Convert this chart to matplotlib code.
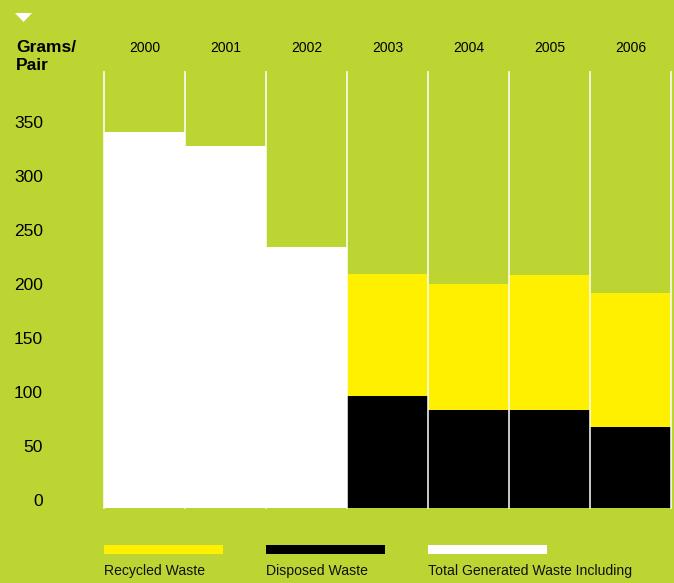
import matplotlib
matplotlib.use("Agg")
import matplotlib.pyplot as plt
import matplotlib.transforms as mtransforms
from matplotlib.patches import Rectangle, Polygon

plt.rcParams['font.family'] = ['Liberation Sans', 'DejaVu Sans']

# Datos (gramos por par)
years = ['2000', '2001', '2002', '2003', '2004', '2005', '2006']
total_only = [348, 335, 242, 0, 0, 0, 0]      # solo total (2000-2002)
disposed = [0, 0, 0, 104, 91, 91, 75]
recycled = [0, 0, 0, 113, 116, 125, 124]
yticks = [0, 50, 100, 150, 200, 250, 300, 350]
legend_labels = ['Recycled Waste', 'Disposed Waste', 'Total Generated Waste Including']

bg = '#bdd533'
yellow = '#fff000'
colors = [yellow, 'black', 'white']

fig = plt.figure(figsize=(6.74, 5.83), dpi=100, facecolor=bg)
ax = fig.add_axes([104/674, 75/583, 567/674, 436/583])
ax.set_facecolor(bg)

x = range(len(years))
ax.bar(x, total_only, width=1, color='white', linewidth=0)
ax.bar(x, disposed, width=1, color='black', linewidth=0)
ax.bar(x, recycled, bottom=disposed, width=1, color=yellow, linewidth=0)

# separadores
for b in [i - 0.5 for i in range(len(years) + 1)]:
    ax.axvline(b, color='white', lw=1.3, alpha=0.85, clip_on=False)

ax.set_xlim(-0.5, len(years) - 0.5)
ax.set_ylim(0, 403.7)
for s in ax.spines.values():
    s.set_visible(False)

ax.set_xticks(list(x))
ax.set_xticklabels(years, fontsize=10)
ax.xaxis.tick_top()
ax.tick_params(axis='x', length=0, pad=12.5)

ax.set_yticks(yticks)
ax.set_yticklabels([str(v) for v in yticks], fontsize=12.5)
ax.tick_params(axis='y', length=0, pad=44)
off = mtransforms.ScaledTranslation(0, 8/100, fig.dpi_scale_trans)
for lab in ax.get_yticklabels():
    lab.set_transform(lab.get_transform() + off)

fig.text(16/674, 1 - 47/583, 'Grams/', fontsize=12.5, fontweight='bold', va='center', ha='left')
fig.text(16/674, 1 - 65/583, 'Pair', fontsize=12.5, fontweight='bold', va='center', ha='left')

# triangulo
fig.patches.append(Polygon([[15/674, 1 - 13/583], [32/674, 1 - 13/583], [23.5/674, 1 - 22/583]],
                           closed=True, transform=fig.transFigure, facecolor='white', edgecolor='none'))

# leyenda
for i, (lab, c) in enumerate(zip(legend_labels, colors)):
    x0 = (104 + i * 162) / 674
    fig.patches.append(Rectangle((x0, 1 - 554/583), 119/674, 9/583, transform=fig.transFigure,
                                 facecolor=c, edgecolor='none'))
    fig.text(x0, 1 - 571/583, lab, fontsize=10.1, va='center', ha='left', color='#111111')

fig.savefig('out.png', dpi=100, facecolor=bg)
